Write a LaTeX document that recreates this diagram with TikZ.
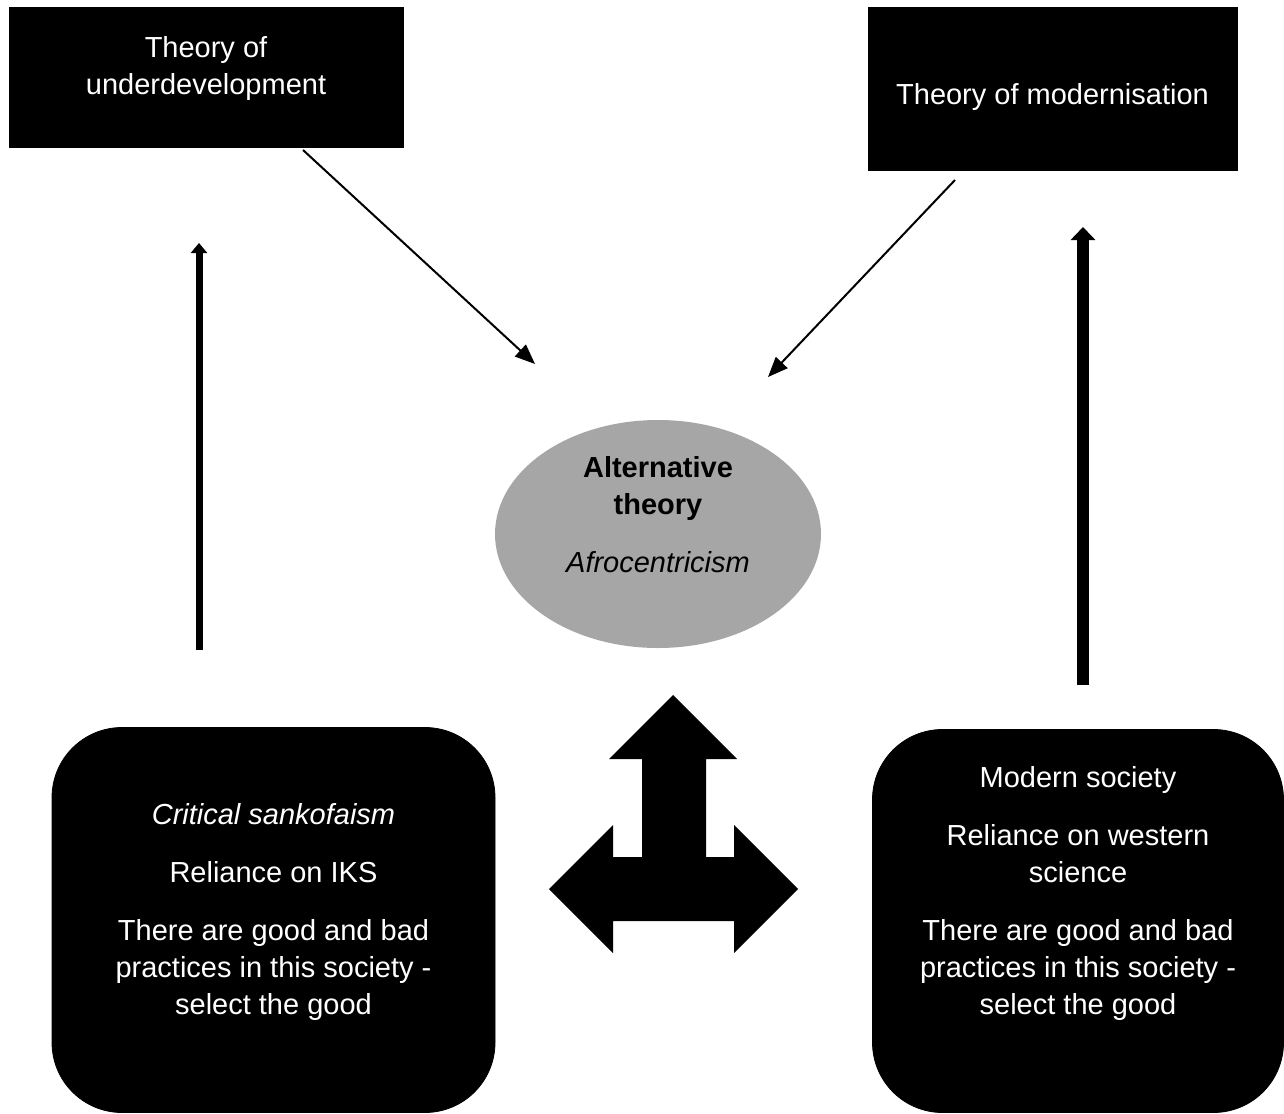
\documentclass[tikz,border=0pt]{standalone}
\usepackage{fontspec}
\setmainfont{Liberation Sans}
\usetikzlibrary{arrows.meta,shapes.geometric}
\definecolor{ellgray}{HTML}{A6A6A6}
\begin{document}
\begin{tikzpicture}[x=0.5pt,y=-0.5pt,
  txt/.style={font=\fontsize{14.5pt}{18.5pt}\selectfont, align=center, inner sep=0pt},
  wtxt/.style={txt, text=white},
  blackbox/.style={fill=black, draw=black, inner sep=0pt},
  thin arrow/.style={line width=1pt, -{Triangle[length=10pt,width=8pt]}},
]
\useasboundingbox (0,0) rectangle (1284,1113);

% top boxes
\node[blackbox, minimum width=197pt, minimum height=70pt] (under) at (206,77) {};
\node[wtxt] (underT) at (206,69) {Theory of\\underdevelopment};
\node[blackbox, minimum width=184.5pt, minimum height=81.5pt] (modern) at (1052.5,88.5) {};
\node[wtxt] (modernT) at (1052.5,97.5) {Theory of modernisation};

% central ellipse
\node[ellipse, fill=ellgray, minimum width=163pt, minimum height=114pt, inner sep=0pt] (alt) at (658,534) {};
\node[txt] (altT) at (658,514.5) {\textbf{Alternative}\\\textbf{theory}\\[10.5pt]\textit{Afrocentricism}};

% bottom rounded boxes
\node[blackbox, rounded corners=35pt, minimum width=221.5pt, minimum height=192.5pt] (iks) at (273.5,920) {};
\node[wtxt] (iksT) at (273.5,912) {\textit{Critical sankofaism}\\[10.5pt]Reliance on IKS\\[10.5pt]There are good and bad\\practices in this society -\\select the good};
\node[blackbox, rounded corners=35pt, minimum width=205.5pt, minimum height=191.5pt] (west) at (1078,921) {};
\node[wtxt] (westT) at (1078,893) {Modern society\\[10.5pt]Reliance on western\\science\\[10.5pt]There are good and bad\\practices in this society -\\select the good};

% connector end points
\coordinate (a1s) at (303,150);
\coordinate (a1e) at (535,364);
\coordinate (a2s) at (955,180);
\coordinate (a2e) at (768,377);
\coordinate (l1s) at (199,650);
\coordinate (l1e) at (199,243);
\coordinate (r1s) at (1083,685);
\coordinate (r1e) at (1083,227);

\draw[thin arrow] (a1s) -- (a1e);
\draw[thin arrow] (a2s) -- (a2e);
\draw[line width=3.5pt, -{Triangle[length=5pt,width=8pt]}] (l1s) -- (l1e);
\draw[line width=6pt, -{Triangle[length=6.5pt,width=12pt]}] (r1s) -- (r1e);

% three-way arrow
\fill[black] (673,695) -- (737,759) -- (706,759) -- (706,857) -- (734,857) -- (734,825)
  -- (798,889) -- (734,953) -- (734,921) -- (613,921) -- (613,953) -- (549,889)
  -- (613,825) -- (613,857) -- (642,857) -- (642,759) -- (609,759) -- cycle;
\end{tikzpicture}
\end{document}
